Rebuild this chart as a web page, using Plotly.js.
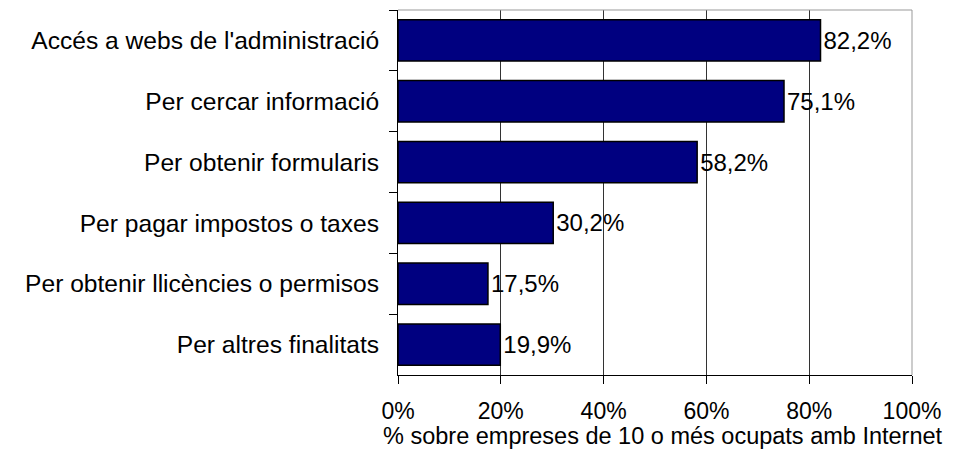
<!DOCTYPE html>
<html>
<head>
<meta charset="utf-8">
<script src="https://cdn.plot.ly/plotly-3.0.1.min.js"></script>
<style>html,body{margin:0;padding:0;background:#fff;}#chart{width:959px;height:450px;}</style>
</head>
<body>
<div id="chart"></div>
<script>
const categories = [
  "Accés a webs de l'administració",
  "Per cercar informació",
  "Per obtenir formularis",
  "Per pagar impostos o taxes",
  "Per obtenir llicències o permisos",
  "Per altres finalitats"
];
const values = [82.2, 75.1, 58.2, 30.2, 17.5, 19.9];
const xTickVals = [0, 20, 40, 60, 80, 100];
const xTickText = ["0%", "20%", "40%", "60%", "80%", "100%"];
const xTitle = "% sobre empreses de 10 o més ocupats amb Internet";

const font = "Liberation Sans, Arial, sans-serif";

const trace = {
  type: "bar",
  orientation: "h",
  y: categories,
  x: values,
  marker: {color: "#000080", line: {color: "#000000", width: 1.5}},
  text: values.map(v => v.toFixed(1).replace(".", ",") + "%"),
  textposition: "outside",
  cliponaxis: false,
  textfont: {family: font, size: 24, color: "#000"},
  hoverinfo: "none"
};

const layout = {
  width: 959, height: 450,
  margin: {l: 398, r: 47, t: 10, b: 75},
  paper_bgcolor: "#fff", plot_bgcolor: "#fff",
  showlegend: false,
  bargap: 0.32,
  font: {family: font, size: 24, color: "#000"},
  xaxis: {
    range: [0, 100],
    tickvals: xTickVals, ticktext: xTickText,
    showgrid: true, gridcolor: "#333333", gridwidth: 1,
    zeroline: false,
    showline: true, linecolor: "#000", linewidth: 1,
    ticks: "outside", ticklen: 8, tickcolor: "#000",
    ticklabelstandoff: 7,
    tickfont: {family: font, size: 23, color: "#000"},
    automargin: false,
    fixedrange: true
  },
  yaxis: {
    autorange: "reversed",
    type: "category",
    showline: true, linecolor: "#000", linewidth: 1,
    ticks: "outside", ticklen: 8, tickcolor: "#000",
    tickson: "boundaries",
    ticklabelstandoff: 13,
    showgrid: false, zeroline: false,
    tickfont: {family: font, size: 24.6, color: "#000"},
    automargin: false,
    fixedrange: true
  },
  annotations: [
    {text: xTitle, xref: "paper", yref: "paper", x: 0.5, y: 0, xanchor: "center", yanchor: "top",
     xshift: 8, yshift: -46, showarrow: false, font: {family: font, size: 23.5, color: "#000"}}
  ],
  shapes: [
    {type: "line", xref: "paper", yref: "paper", x0: 0, x1: 1, y0: 1, y1: 1, line: {color: "#999999", width: 1}},
    {type: "line", xref: "paper", yref: "paper", x0: 1, x1: 1, y0: 0, y1: 1, line: {color: "#999999", width: 1}}
  ]
};

Plotly.newPlot("chart", [trace], layout, {displayModeBar: false, staticPlot: true});
</script>
</body>
</html>
